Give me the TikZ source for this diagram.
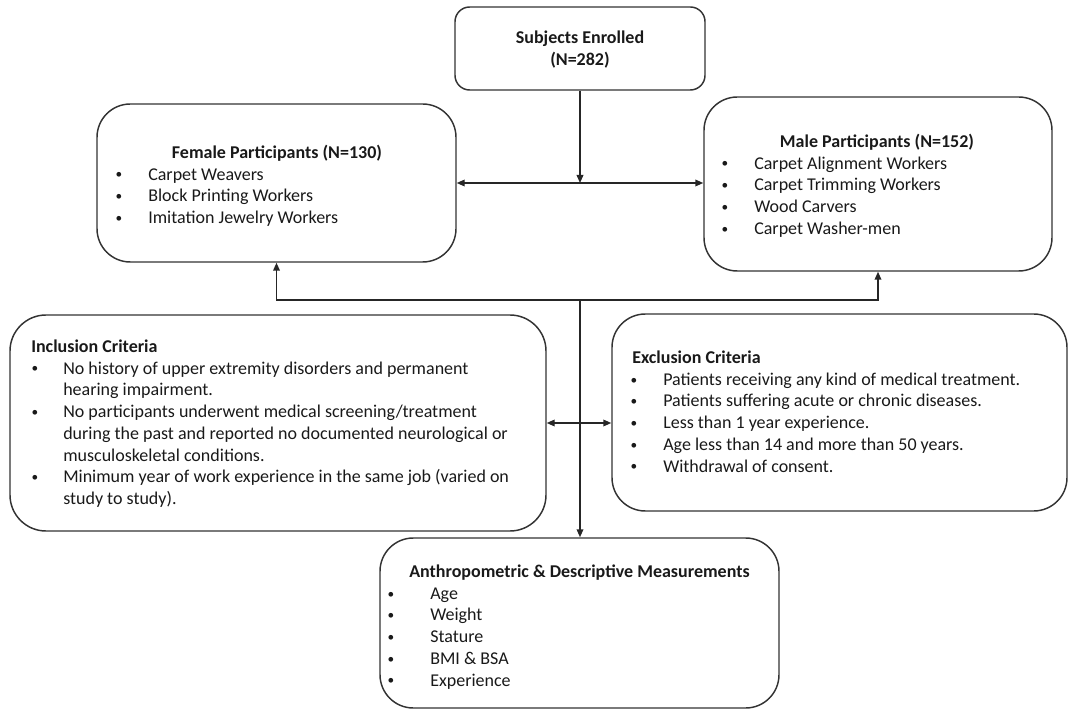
\documentclass[tikz,border=0pt]{standalone}
\usepackage{fontspec}
\setmainfont{Carlito}
\usetikzlibrary{arrows.meta,fit}
\begin{document}
\begin{tikzpicture}[x=0.75pt,y=-0.75pt,
  box/.style={draw=black!80, line width=1.1pt, inner sep=0pt, rounded corners=25pt},
  arr/.style={draw=black!85, line width=1.1pt, -{Triangle[length=6pt,width=5pt]}},
  dbl/.style={draw=black!85, line width=1.1pt, {Triangle[length=6pt,width=5pt]}-{Triangle[length=6pt,width=5pt]}},
  txt/.style={font=\fontsize{13.5}{16.3}\selectfont, text=black!90, inner sep=0pt},
  ttl/.style={txt, font=\fontsize{13.5}{16.3}\selectfont\bfseries},
  itm/.style={txt, anchor=base west},
  bul/.style={txt, anchor=base, font=\fontsize{10}{12}\selectfont, yshift=0.9pt},
]
\useasboundingbox (0,0) rectangle (1068,709);

% boxes
\node[box, rounded corners=11pt, fit={(455,7) (705,90)}] (subj) {};
\node[box, fit={(97,104) (456,262)}] (fem) {};
\node[box, fit={(704,97) (1052,271)}] (male) {};
\node[box, rounded corners=27pt, fit={(10,315) (546,531)}] (incl) {};
\node[box, rounded corners=25pt, fit={(612,314) (1067,511)}] (excl) {};
\node[box, fit={(380,538) (779,708)}] (anth) {};

% subjects enrolled
\node[ttl, anchor=base] (subjt1) at (580,44) {Subjects Enrolled};
\node[ttl, anchor=base] (subjt2) at (580,66) {(N=282)};

% female participants
\node[ttl, anchor=base] (femt) at (277,158.5) {Female Participants (N=130)};
\foreach \t [count=\i] in {{Carpet Weavers},{Block Printing Workers},{Imitation Jewelry Workers}} {
  \node[bul] (femb\i) at (119,{158.5+21.7*\i}) {•};
  \node[itm] (femi\i) at (148,{158.5+21.7*\i}) {\t};
}

% male participants
\node[ttl, anchor=base] (malet) at (877,147.5) {Male Participants (N=152)};
\foreach \t [count=\i] in {{Carpet Alignment Workers},{Carpet Trimming Workers},{Wood Carvers},{Carpet Washer-men}} {
  \node[bul] (maleb\i) at (725,{147.5+21.7*\i}) {•};
  \node[itm] (malei\i) at (754,{147.5+21.7*\i}) {\t};
}

% inclusion criteria
\node[ttl, anchor=base west] (inclt) at (31,352.5) {Inclusion Criteria};
\foreach \t [count=\i] in {{No history of upper extremity disorders and permanent},
  {hearing impairment.},
  {No participants underwent medical screening/treatment},
  {during the past and reported no documented neurological or},
  {musculoskeletal conditions.},
  {Minimum year of work experience in the same job (varied on},
  {study to study).}} {
  \node[itm] (incli\i) at (63,{352.5+21.7*\i}) {\t};
}
\foreach \i in {1,3,6} {
  \node[bul] (inclb\i) at (35,{352.5+21.7*\i}) {•};
}

% exclusion criteria
\node[ttl, anchor=base west] (exclt) at (632,363.5) {Exclusion Criteria};
\foreach \t [count=\i] in {{Patients receiving any kind of medical treatment.},
  {Patients suffering acute or chronic diseases.},
  {Less than 1 year experience.},
  {Age less than 14 and more than 50 years.},
  {Withdrawal of consent.}} {
  \node[bul] (exclb\i) at (634,{363.5+21.7*\i}) {•};
  \node[itm] (excli\i) at (663,{363.5+21.7*\i}) {\t};
}

% anthropometric measurements
\node[ttl, anchor=base] (antht) at (579.5,577.5) {Anthropometric \& Descriptive Measurements};
\foreach \t [count=\i] in {{Age},{Weight},{Stature},{BMI \& BSA},{Experience}} {
  \node[bul] (anthb\i) at (391,{577.5+21.7*\i}) {•};
  \node[itm] (anthi\i) at (430,{577.5+21.7*\i}) {\t};
}

% connectors
\draw[arr] (subj.south) -- (subj.south |- fem.east);
\draw[dbl] (fem.east) -- (fem.east -| male.west);
\coordinate (bus) at (580,300);
\draw[arr] (bus) -| (fem.south);
\draw[arr] (bus) -| (male.south);
\draw[arr] (bus) -- (bus |- anth.north);
\draw[dbl] (incl.east) -- (incl.east -| excl.west);
\end{tikzpicture}
\end{document}
